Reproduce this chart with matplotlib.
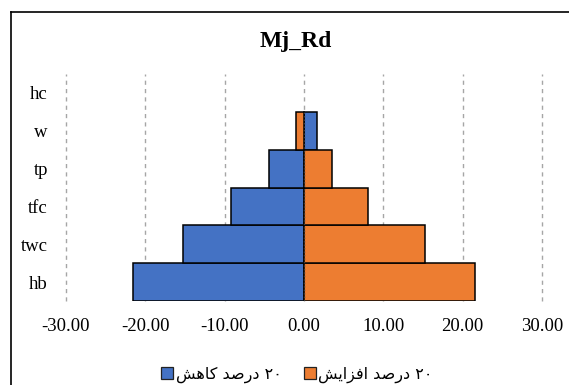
import matplotlib.pyplot as plt
from matplotlib.patches import Patch
from matplotlib.lines import Line2D

# variables, bottom row first
params = ['hb', 'twc', 'tfc', 'tp', 'w', 'hc']
minus20 = [-21.5, -15.25, -9.15, -4.4, 1.7, 0.0]
plus20 = [21.6, 15.25, 8.1, 3.55, -0.95, 0.0]
xticks = [-30, -20, -10, 0, 10, 20, 30]

# Persian labels, pre-shaped in visual order
lbl_minus = '\uFEB6\uFEEB\uFE8E\uFB90 \uFEAA\uFEBB\uFEAD\uFEA9 \u06F2\u06F0'
lbl_plus = '\uFEB6\uFBFE\uFE8D\uFEB0\uFED3\uFE8D \uFEAA\uFEBB\uFEAD\uFEA9 \u06F2\u06F0'

blue = '#4472C4'
orange = '#ED7D31'
serif = ['Liberation Serif', 'DejaVu Serif']

fig = plt.figure(figsize=(5.69, 3.85), dpi=100)
ax = fig.add_axes([66/569, 1-301/385, (542-66)/569, (301-74)/385])

y = range(len(params))
for vals, col in ((minus20, blue), (plus20, orange)):
    edges = ['black' if v != 0 else 'none' for v in vals]
    ax.barh(y, vals, height=1.0, color=col, edgecolor=edges, lw=1.1, zorder=2)

ax.set_xlim(-30, 30)
ax.set_ylim(-0.5, len(params)-0.5)
ax.set_xticks(xticks)
ax.set_xticklabels(['%.2f' % v for v in xticks], fontfamily=serif, fontsize=13.5)
ax.set_yticks(list(y))
ax.set_yticklabels(params, fontfamily=serif, fontsize=13.5)
ax.tick_params(length=0)
ax.tick_params(axis='x', pad=12)
ax.tick_params(axis='y', pad=13)
for v in xticks:
    ax.axvline(v, color='#A6A6A6', lw=1.0, ls=(0, (3, 3)), zorder=1, clip_on=False)
# dotted zero axis across the bar rows
ax.axvline(0, ymin=0, ymax=5/6, color='#404040', lw=1.0, ls=(0, (1, 1.5)), zorder=3)
for s in ax.spines.values():
    s.set_visible(False)

fig.text(296/569, 1-42/385, 'Mj_Rd', ha='center', va='center',
         fontfamily=serif, fontsize=17, fontweight='bold')

handles = [Patch(facecolor=blue, edgecolor='#222222', lw=0.9),
           Patch(facecolor=orange, edgecolor='#222222', lw=0.9)]
fig.legend(handles, [lbl_minus, lbl_plus], loc='center', bbox_to_anchor=(297/569, 1-375/385),
           ncol=2, frameon=False, handlelength=0.75, handleheight=0.75, handletextpad=0.15,
           columnspacing=1.4, prop={'family': ['DejaVu Sans'], 'size': 11.5})

# chart border (left and top edges)
fig.add_artist(Line2D([11/569, 11/569], [0, 1-11.5/385], transform=fig.transFigure, color='black', lw=1.2))
fig.add_artist(Line2D([11/569, 1], [1-11.5/385, 1-11.5/385], transform=fig.transFigure, color='black', lw=1.2))

fig.savefig('out.png', dpi=100)
